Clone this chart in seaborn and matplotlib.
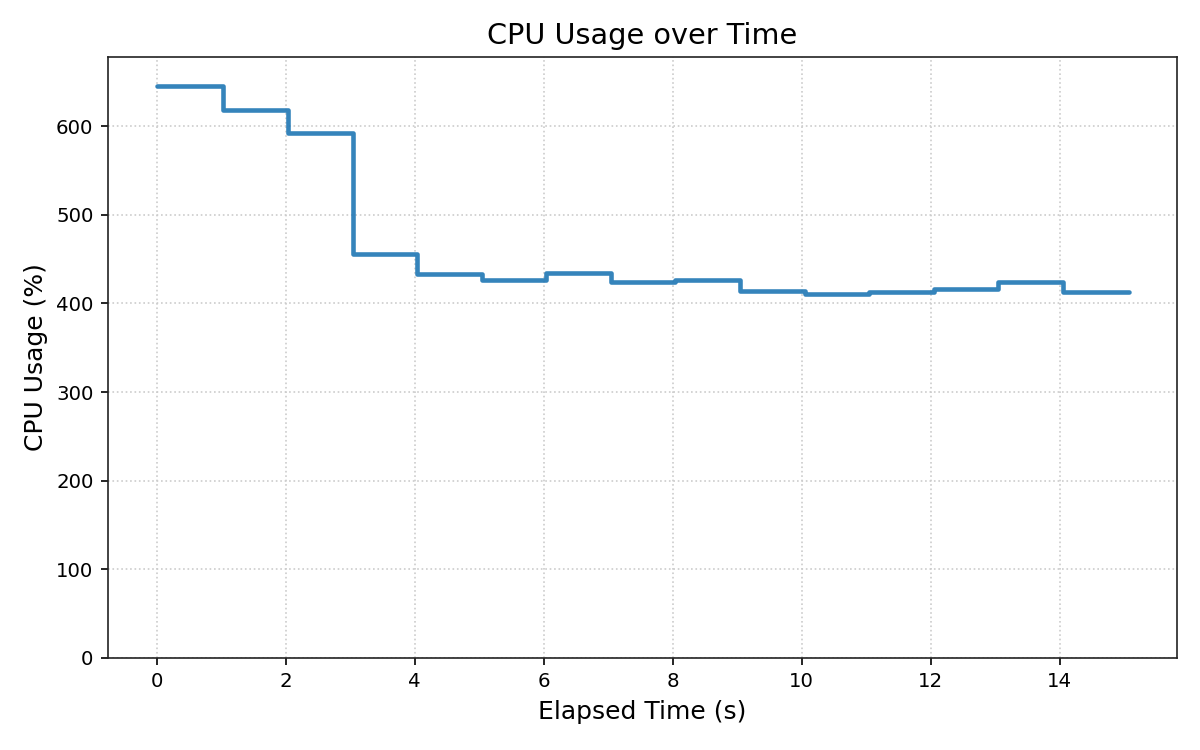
import matplotlib
matplotlib.use("Agg")
import matplotlib.pyplot as plt
import seaborn as sns
import pandas as pd

elapsed_time = [0.0, 1.03, 2.03, 3.04, 4.04, 5.04, 6.04, 7.04, 8.04, 9.04,
                10.05, 11.05, 12.05, 13.05, 14.05, 15.07]
cpu_usage = [646, 618, 593, 456, 433, 426, 434, 424, 426, 414,
             411, 413, 416, 424, 413, 413]

df = pd.DataFrame({"Elapsed Time (s)": elapsed_time, "CPU Usage (%)": cpu_usage})

sns.set_style("ticks")
plt.rcParams["font.family"] = ["DejaVu Sans"]

fig, ax = plt.subplots(figsize=(8, 5), dpi=150)
sns.lineplot(data=df, x="Elapsed Time (s)", y="CPU Usage (%)", ax=ax,
             drawstyle="steps-post", color="tab:blue", alpha=0.9, linewidth=2.2)

ax.set_ylim(0, max(cpu_usage) * 1.05)
ax.grid(True, linestyle=":", color="#cccccc", linewidth=0.8)
ax.set_axisbelow(True)
ax.set_title("CPU Usage over Time", fontsize=13.8, color="black")
ax.set_xlabel("Elapsed Time (s)", fontsize=12, color="black")
ax.set_ylabel("CPU Usage (%)", fontsize=12, color="black")
ax.tick_params(labelsize=9.5, colors="black")
for s in ax.spines.values():
    s.set_color("#222222")

fig.subplots_adjust(left=0.09, right=0.981, top=0.924, bottom=0.123)
fig.savefig("out.png", dpi=150)
